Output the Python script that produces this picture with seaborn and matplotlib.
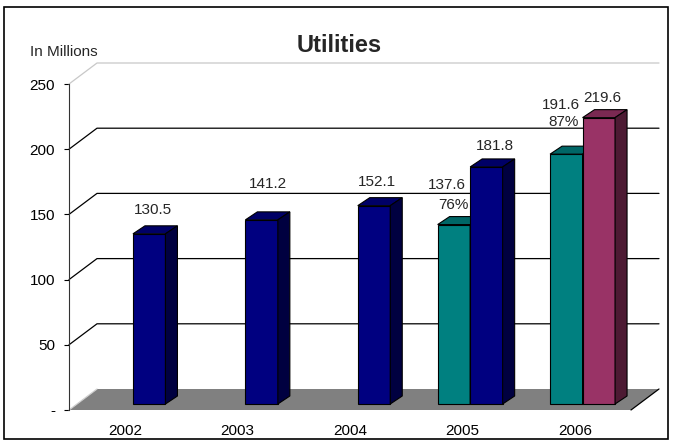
import numpy as np
import pandas as pd
import matplotlib
matplotlib.use("Agg")
import matplotlib.pyplot as plt
import seaborn as sns
from matplotlib.patches import Polygon, Rectangle
from matplotlib.colors import to_rgb

years = ["2002", "2003", "2004", "2005", "2006"]

teal_years = [3, 4]
teal_values = [137.6, 191.6]
teal_pct = ["76%", "87%"]

blue_years = [0, 1, 2, 3]
blue_values = [130.5, 141.2, 152.1, 181.8]

plum_years = [4]
plum_values = [219.6]

y_ticks = [0, 50, 100, 150, 200, 250]
y_ticklabels = ["-", "50", "100", "150", "200", "250"]

colors = {"teal": "#008080", "blue": "#000080", "plum": "#993366"}

sns.set_theme(style="white")
plt.rcParams['font.family'] = ['Liberation Sans', 'DejaVu Sans']

W, H = 674, 442
fig = plt.figure(figsize=(W / 100, H / 100), dpi=100)
ax = fig.add_axes([69 / W, (H - 410) / H, 562 / W, 326 / H])
ax.patch.set_alpha(0)

# pixel -> data scale of the front plane
PX_X = 562 / 5
PX_Y = 326 / 250
bar_w = 32.5 / PX_X
shift = 24 / PX_X
lift = 6 / PX_Y
gx, gy = 28 / PX_X, 21 / PX_Y      # wall / floor depth
bx, by = 12 / PX_X, 8 / PX_Y       # bar depth

rows = []
for i, v in zip(teal_years, teal_values):
    rows.append({"pos": i + shift - bar_w, "value": v, "series": "teal"})
for i, v in zip(blue_years, blue_values):
    rows.append({"pos": i + shift, "value": v, "series": "blue"})
for i, v in zip(plum_years, plum_values):
    rows.append({"pos": i + shift, "value": v, "series": "plum"})
df = pd.DataFrame(rows)

sns.barplot(data=df, x="pos", y="value", hue="series", hue_order=["teal", "blue", "plum"],
            palette=colors, saturation=1, native_scale=True, dodge=False, width=1, orient="x",
            edgecolor="black", linewidth=0.8, legend=False, errorbar=None, ax=ax)

# back wall gridlines and left wall diagonals
for v in y_ticks[1:]:
    ax.plot([-0.5, -0.5 + gx, 4.5 + gx], [v, v + gy, v + gy],
            color="#c8c8c8" if v == 250 else "black", lw=0.9, clip_on=False, zorder=1)

# floor
ax.add_patch(Polygon([(-0.5, 0), (4.5, 0), (4.5 + gx, gy), (-0.5 + gx, gy)],
                     closed=True, facecolor="#808080", edgecolor="none", clip_on=False, zorder=1.5))
ax.plot([4.5, 4.5 + gx], [0, gy], color="black", lw=0.9, clip_on=False, zorder=1.6)
ax.plot([-0.5, -0.5 + gx], [0, gy], color="#d0d0d0", lw=0.9, clip_on=False, zorder=1.6)

# extrude bars: top and right side faces
for p in list(ax.patches):
    if not isinstance(p, Rectangle) or p.get_height() <= 0:
        continue
    x0, w, h = p.get_x(), p.get_width(), p.get_height()
    rgb = np.array(to_rgb(p.get_facecolor()))
    z = 2 if np.allclose(rgb, to_rgb(colors["teal"])) else 3
    p.set_y(lift)
    p.set_zorder(z)
    top = lift + h
    ax.add_patch(Polygon([(x0, top), (x0 + w, top), (x0 + w + bx, top + by), (x0 + bx, top + by)],
                         closed=True, facecolor=rgb * 0.8, edgecolor="black", lw=0.8, zorder=z))
    ax.add_patch(Polygon([(x0 + w, lift), (x0 + w + bx, lift + by), (x0 + w + bx, top + by), (x0 + w, top)],
                         closed=True, facecolor=rgb * 0.5, edgecolor="black", lw=0.8, zorder=z))

# value labels (offsets in pixels from the bar's front top centre)
lab_kw = dict(textcoords="offset pixels", ha="center", va="center", fontsize=11, zorder=6)
blue_off = [(4, 24), (6, 36), (3, 24), (9, 21)]
for i, v, off in zip(blue_years, blue_values, blue_off):
    ax.annotate(f"{v:.1f}", (i + shift, v + lift), xytext=off, **lab_kw)
teal_off = [(-7, 40), (-5, 49)]
pct_off = [(0, 20), (-3, 32)]
for i, v, pc, off, off2 in zip(teal_years, teal_values, teal_pct, teal_off, pct_off):
    xc = i + shift - bar_w
    ax.annotate(f"{v:.1f}", (xc, v + lift), xytext=off, **lab_kw)
    ax.annotate(pc, (xc, v + lift), xytext=off2, **lab_kw)
for i, v in zip(plum_years, plum_values):
    ax.annotate(f"{v:.1f}", (i + shift, v + lift), xytext=(4, 20), **lab_kw)

ax.set_xlim(-0.5, 4.5)
ax.set_ylim(0, 250)
ax.set_xticks(range(len(years)), years)
ax.set_yticks(y_ticks, y_ticklabels)
ax.set_xlabel("")
ax.set_ylabel("")
ax.tick_params(axis="x", length=0, pad=10, labelsize=11, colors="black")
ax.tick_params(axis="y", left=True, length=3.6, width=0.8, pad=6.5, labelsize=11,
               colors="black")
for s in ["top", "right", "bottom"]:
    ax.spines[s].set_visible(False)
ax.spines["left"].set_color("#333333")
ax.spines["left"].set_linewidth(0.8)

fig.text(339 / W, 1 - 45 / H, "Utilities", ha="center", va="center", fontsize=17, weight="bold")
fig.text(30 / W, 1 - 52 / H, "In Millions", ha="left", va="center", fontsize=11)

fig.add_artist(Rectangle((4 / W, 3 / H), 664 / W, 432 / H, transform=fig.transFigure,
                         fill=False, edgecolor="black", lw=1.2))

fig.savefig("out.png", dpi=100)
